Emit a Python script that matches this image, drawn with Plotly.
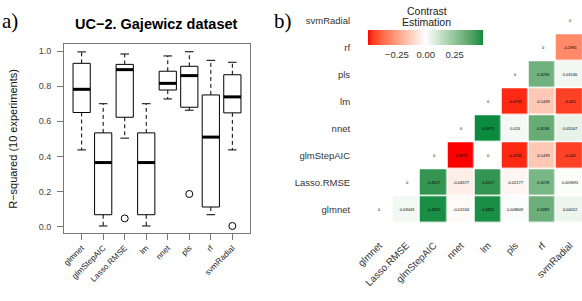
import plotly.graph_objects as go

# ---------------- data ----------------
methods = ["glmnet", "glmStepAIC", "Lasso.RMSE", "lm", "nnet", "pls", "rf", "svmRadial"]
box_q1 = [0.650, 0.068, 0.623, 0.068, 0.778, 0.680, 0.112, 0.648]
box_med = [0.782, 0.365, 0.894, 0.365, 0.816, 0.860, 0.510, 0.739]
box_q3 = [0.930, 0.534, 0.924, 0.534, 0.885, 0.913, 0.750, 0.865]
whisk_lo = [0.437, 0.004, 0.504, 0.004, 0.727, 0.663, 0.068, 0.437]
whisk_hi = [0.995, 0.700, 0.983, 0.700, 0.972, 0.996, 0.947, 0.936]
outlier_method = ["Lasso.RMSE", "pls", "svmRadial"]
outlier_val = [0.047, 0.186, 0.004]
y_ticks = [0.0, 0.2, 0.4, 0.6, 0.8, 1.0]

hm_order = ["glmnet", "Lasso.RMSE", "glmStepAIC", "nnet", "lm", "pls", "rf", "svmRadial"]
N = None
contrast = [
    [0, 0.03043, 0.4822, -0.01534, 0.4822, 0.008609, 0.3383, 0.04012],   # glmnet
    [N, 0, 0.4517, -0.04577, 0.4517, -0.02177, 0.3078, 0.009691],        # Lasso.RMSE
    [N, N, 0, -0.4975, 0, -0.4735, -0.1439, -0.442],                     # glmStepAIC
    [N, N, N, 0, 0.4975, 0.024, 0.3536, 0.05547],                        # nnet
    [N, N, N, N, 0, -0.4735, -0.1439, -0.442],                           # lm
    [N, N, N, N, N, 0, 0.3296, 0.03146],                                 # pls
    [N, N, N, N, N, N, 0, -0.2981],                                      # rf
    [N, N, N, N, N, N, N, 0],                                            # svmRadial
]
cbar_ticks = [-0.25, 0.0, 0.25]

W, H = 582, 301
def px(x): return x / W
def py(y): return 1 - y / H

# ---------------- colour scale (Lab interpolation like ggplot gradient2) ----------------
def hex2rgb(h): return [int(h[i:i + 2], 16) / 255 for i in (1, 3, 5)]
def s2l(c): return c / 12.92 if c <= 0.04045 else ((c + 0.055) / 1.055) ** 2.4
def l2s(c): return 12.92 * c if c <= 0.0031308 else 1.055 * c ** (1 / 2.4) - 0.055
def rgb2lab(rgb):
    r, g, b = [s2l(c) for c in rgb]
    X = (0.4124 * r + 0.3576 * g + 0.1805 * b) / 0.95047
    Y = 0.2126 * r + 0.7152 * g + 0.0722 * b
    Z = (0.0193 * r + 0.1192 * g + 0.9505 * b) / 1.08883
    f = lambda t: t ** (1 / 3) if t > 0.008856 else 7.787 * t + 16 / 116
    fx, fy, fz = f(X), f(Y), f(Z)
    return (116 * fy - 16, 500 * (fx - fy), 200 * (fy - fz))
def lab2hex(lab):
    L, a, b = lab
    fy = (L + 16) / 116; fx = fy + a / 500; fz = fy - b / 200
    finv = lambda t: t ** 3 if t ** 3 > 0.008856 else (t - 16 / 116) / 7.787
    X = finv(fx) * 0.95047; Y = finv(fy); Z = finv(fz) * 1.08883
    r = 3.2406 * X - 1.5372 * Y - 0.4986 * Z
    g = -0.9689 * X + 1.8758 * Y + 0.0415 * Z
    bb = 0.0557 * X - 0.2040 * Y + 1.0570 * Z
    out = [min(1, max(0, l2s(max(0, c)))) for c in (r, g, bb)]
    return "#%02x%02x%02x" % tuple(int(round(c * 255)) for c in out)

low_c, mid_c, high_c = rgb2lab(hex2rgb("#FF0000")), rgb2lab(hex2rgb("#FFFFFF")), rgb2lab(hex2rgb("#0B8A40"))
vals = [v for row in contrast for v in row if v is not None]
zmin, zmax = min(vals), max(vals)
mabs = max(abs(zmin), abs(zmax))
colorscale = []
n = 40
for i in range(n + 1):
    p = i / n
    v = zmin + p * (zmax - zmin)
    t = min(1, abs(v) / mabs)
    end = low_c if v < 0 else high_c
    lab = tuple(mid_c[k] + (end[k] - mid_c[k]) * t for k in range(3))
    colorscale.append([p, lab2hex(lab)])

# ---------------- figure ----------------
fig = go.Figure()
pos = list(range(1, len(methods) + 1))

wx, wy, cx, cy, mx, my = [], [], [], [], [], []
for i, p in enumerate(pos):
    wx += [p, p, None, p, p, None]
    wy += [box_q3[i], whisk_hi[i], None, box_q1[i], whisk_lo[i], None]
    cx += [p - 0.2, p + 0.2, None, p - 0.2, p + 0.2, None]
    cy += [whisk_hi[i], whisk_hi[i], None, whisk_lo[i], whisk_lo[i], None]
    mx += [p - 0.4, p + 0.4, None]
    my += [box_med[i], box_med[i], None]

fig.add_trace(go.Scatter(x=wx, y=wy, mode="lines", line=dict(color="black", width=1, dash="4px,3px"),
                         hoverinfo="skip", xaxis="x", yaxis="y"))
fig.add_trace(go.Scatter(x=cx, y=cy, mode="lines", line=dict(color="black", width=1),
                         hoverinfo="skip", xaxis="x", yaxis="y"))
fig.add_trace(go.Box(x=pos, q1=box_q1, median=box_med, q3=box_q3, lowerfence=box_q1, upperfence=box_q3,
                     width=0.8, fillcolor="white", line=dict(color="black", width=1), whiskerwidth=0,
                     boxpoints=False, xaxis="x", yaxis="y"))
fig.add_trace(go.Scatter(x=mx, y=my, mode="lines", line=dict(color="black", width=3),
                         hoverinfo="skip", xaxis="x", yaxis="y"))
fig.add_trace(go.Scatter(x=[methods.index(m) + 1 for m in outlier_method], y=outlier_val, mode="markers",
                         marker=dict(symbol="circle-open", size=7, color="black", line=dict(width=1)),
                         xaxis="x", yaxis="y"))

text = [["" if v is None else "{:.4g}".format(v) for v in row] for row in contrast]
fig.add_trace(go.Heatmap(
    z=contrast, x=list(range(len(hm_order))), y=list(range(len(hm_order))), text=text,
    texttemplate="%{text}", textfont=dict(size=4, color="black", family="Liberation Sans"),
    colorscale=colorscale, zmin=zmin, zmax=zmax, xgap=1.5, ygap=1.5, hoverongaps=False,
    xaxis="x2", yaxis="y2",
    colorbar=dict(orientation="h", x=px(425.75), xanchor="center", y=py(30), yanchor="top",
                  len=114.5, lenmode="pixels", thickness=15, thicknessmode="pixels",
                  outlinewidth=0, xpad=0, ypad=0, tickvals=cbar_ticks, tickformat=".2f",
                  ticks="outside", ticklen=2, tickcolor="white",
                  tickfont=dict(size=9.5, color="#333", family="Liberation Sans")),
))

axis_font = dict(family="Liberation Sans", color="#222")
fig.update_layout(
    width=W, height=H, margin=dict(l=0, r=0, t=0, b=0, autoexpand=False),
    paper_bgcolor="white", plot_bgcolor="white", showlegend=False,
    font=dict(family="Liberation Sans"),
    xaxis=dict(domain=[px(64), px(250)], range=[0.18, 8.82], tickvals=pos, ticktext=methods,
               tickangle=-45, tickfont=dict(size=8.2, **axis_font), ticks="outside", ticklen=6,
               tickcolor="#777", showline=True, mirror=True, linecolor="#777", linewidth=1,
               showgrid=False, zeroline=False, anchor="y"),
    yaxis=dict(domain=[py(233), py(44)], range=[-0.036, 1.04], tickvals=y_ticks,
               ticktext=["%.1f" % v for v in y_ticks], tickfont=dict(size=9, family="Liberation Sans", color="#444"),
               ticks="outside", ticklen=6, tickcolor="#777", ticklabelstandoff=4,
               showline=True, mirror=True, linecolor="#777", linewidth=1,
               showgrid=False, zeroline=False, anchor="x"),
    xaxis2=dict(domain=[px(363), 1], range=[-0.6, 7.45], tickvals=list(range(len(hm_order))),
                ticktext=hm_order, tickangle=-45, tickfont=dict(size=9.8, family="Liberation Sans", color="#333"),
                ticks="outside", ticklen=9, tickcolor="rgba(0,0,0,0)", showline=False,
                showgrid=False, zeroline=False, anchor="y2"),
    yaxis2=dict(domain=[py(225.9), py(4.5)], range=[-0.6, 7.6], tickvals=list(range(len(hm_order))),
                ticktext=hm_order, tickfont=dict(size=9.5, family="Liberation Sans", color="#333"),
                ticks="outside", ticklen=10, tickcolor="rgba(0,0,0,0)", showline=False,
                showgrid=False, zeroline=False, anchor="x2"),
    annotations=[
        dict(text="<b>UC−2. Gajewicz dataset</b>", x=px(156.7), y=py(24.3), xref="paper", yref="paper",
             xanchor="center", yanchor="middle", showarrow=False,
             font=dict(size=14.5, family="Liberation Sans", color="black")),
        dict(text="R−squared (10 experiments)", x=px(12.3), y=py(138.5), xref="paper", yref="paper",
             xanchor="center", yanchor="middle", textangle=-90, showarrow=False,
             font=dict(size=11, family="Liberation Sans", color="#111")),
        dict(text="a)", x=0, y=py(21), xref="paper", yref="paper", xanchor="left", yanchor="middle",
             showarrow=False, font=dict(size=21, family="Liberation Serif", color="black")),
        dict(text="b)", x=px(272), y=py(21), xref="paper", yref="paper", xanchor="left", yanchor="middle",
             showarrow=False, font=dict(size=21, family="Liberation Serif", color="black")),
        dict(text="Contrast", x=px(427), y=py(10.7), xref="paper", yref="paper", xanchor="center",
             yanchor="middle", showarrow=False, font=dict(size=10.5, family="Liberation Sans", color="#222")),
        dict(text="Estimation", x=px(427), y=py(22.3), xref="paper", yref="paper", xanchor="center",
             yanchor="middle", showarrow=False, font=dict(size=10.5, family="Liberation Sans", color="#222")),
    ],
)

fig.write_html("out.html")
